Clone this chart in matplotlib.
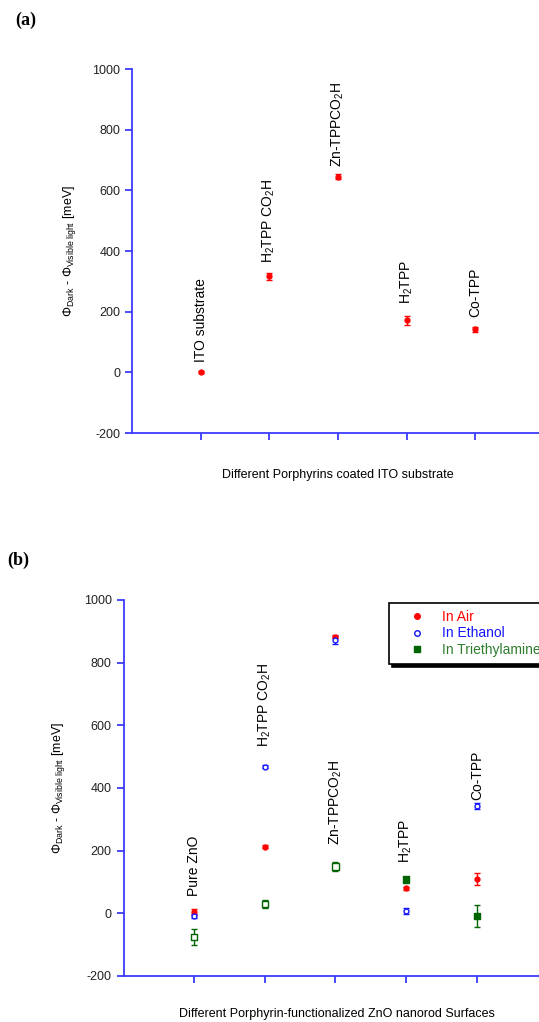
import numpy as np
import matplotlib
matplotlib.use("Agg")
import matplotlib.pyplot as plt
from matplotlib.lines import Line2D

plt.rcParams["font.family"] = ["Liberation Sans", "DejaVu Sans"]
plt.rcParams["mathtext.fontset"] = "custom"
plt.rcParams["mathtext.rm"] = "Liberation Sans"
plt.rcParams["mathtext.it"] = "Liberation Sans"
plt.rcParams["axes.unicode_minus"] = False

# ---- data: panel (a), ITO ----
a_pos = [1, 2, 3, 4, 5]
a_names = ["ITO substrate", r"H$_2$TPP CO$_2$H", r"Zn-TPPCO$_2$H", r"H$_2$TPP", "Co-TPP"]
a_vals = [2, 317, 645, 172, 142]
a_err = [4, 12, 9, 15, 8]
a_label_y = [35, 360, 677, 225, 183]

# ---- data: panel (b), ZnO nanorods ----
b_pos = [1, 2, 3, 4, 5]
b_names = ["Pure ZnO", r"H$_2$TPP CO$_2$H", r"Zn-TPPCO$_2$H", r"H$_2$TPP", "Co-TPP"]
air_vals = [5, 213, 883, 80, 110]
air_err = [10, 4, 5, 5, 20]
eth_vals = [-9, 468, 873, 8, 342]
eth_err = [6, 4, 12, 10, 10]
tea_vals = [-75, 30, 150, 108, -8]
tea_err = [25, 12, 15, 5, 35]
tea_filled = [False, False, False, True, True]
b_label_y = [55, 531, 218, 160, 362]
legend_names = ["In Air", "In Ethanol", "In Triethylamine"]

spine_blue = "#3c3cff"
red = "#ff0000"
blue = "#1414ff"
green = "#006400"
green_txt = "#2e7d2e"

fig = plt.figure(figsize=(5.39, 10.22), dpi=100)


def style_axis(ax, xmax):
    ax.set_xlim(0, xmax)
    ax.set_ylim(-200, 1000)
    ax.set_yticks([-200, 0, 200, 400, 600, 800, 1000])
    ax.set_xticks([1, 2, 3, 4, 5])
    ax.set_xticklabels([])
    for s in ["top", "right"]:
        ax.spines[s].set_visible(False)
    for s in ["left", "bottom"]:
        ax.spines[s].set_color(spine_blue)
        ax.spines[s].set_linewidth(1.3)
    ax.tick_params(axis="both", direction="out", color=spine_blue, width=1.3,
                   length=5, labelsize=9, labelcolor="#222222")
    ax.set_ylabel(r"$\Phi_{\mathrm{Dark}}$ - $\Phi_{\mathrm{Visible\ light}}$ [meV]",
                  fontsize=9)


# ---------- (a) ----------
ax1 = fig.add_axes([132 / 539, 1 - 433 / 1022, 1 - 132 / 539, 364 / 1022])
style_axis(ax1, 5.93)
ax1.errorbar(a_pos, a_vals, yerr=a_err, fmt="o", color=red, ms=3.5,
             elinewidth=1, capsize=2.5, capthick=1)
for x, y, t in zip(a_pos, a_label_y, a_names):
    ax1.text(x, y, t, rotation=90, ha="center", va="bottom", fontsize=10)
ax1.yaxis.set_label_coords(-0.133, 0.5)
ax1.set_xlabel("Different Porphyrins coated ITO substrate", fontsize=9)
ax1.xaxis.set_label_coords(0.505, -0.1)
fig.text(15 / 539, 1 - 20 / 1022, "(a)", fontsize=13, fontweight="bold",
         family="Liberation Serif", va="center")

# ---------- (b) ----------
ax2 = fig.add_axes([123.5 / 539, 1 - 976 / 1022, 1 - 123.5 / 539, 376 / 1022])
style_axis(ax2, 5.88)
ax2.errorbar(b_pos, air_vals, yerr=air_err, fmt="o", color=red, ms=3.5,
             elinewidth=1, capsize=2.5, capthick=1)
ax2.errorbar(b_pos, eth_vals, yerr=eth_err, fmt="o", color=blue, mfc="white",
             ms=3.5, mew=1, elinewidth=1, capsize=2.5, capthick=1)
ax2.errorbar(b_pos, tea_vals, yerr=tea_err, fmt="none", ecolor=green,
             elinewidth=1, capsize=2.5, capthick=1)
ax2.scatter(b_pos, tea_vals, marker="s", s=22, linewidths=1, edgecolors=green,
            facecolors=[green if f else "white" for f in tea_filled], zorder=3)
for x, y, t in zip(b_pos, b_label_y, b_names):
    ax2.text(x, y, t, rotation=90, ha="center", va="bottom", fontsize=10)
ax2.yaxis.set_label_coords(-0.136, 0.5)
ax2.set_xlabel("Different Porphyrin-functionalized ZnO nanorod Surfaces", fontsize=9)
ax2.xaxis.set_label_coords(0.513, -0.086)

handles = [
    Line2D([], [], ls="none", marker="o", color=red, ms=4),
    Line2D([], [], ls="none", marker="o", color=blue, mfc="white", ms=4),
    Line2D([], [], ls="none", marker="s", color=green, ms=4.5),
]
leg = ax2.legend(handles, legend_names, loc="upper left",
                 bbox_to_anchor=(0.639, 0.992), borderaxespad=0,
                 fontsize=10, frameon=True, fancybox=False,
                 shadow={"color": "black", "alpha": 1.0, "ox": 2, "oy": -2},
                 edgecolor="black", handlelength=3.0, handletextpad=0.35,
                 labelspacing=0.18, borderpad=0.5)
leg.get_frame().set_linewidth(1.2)
for txt, c in zip(leg.get_texts(), [red, blue, green_txt]):
    txt.set_color(c)

fig.text(7 / 539, 1 - 560 / 1022, "(b)", fontsize=13, fontweight="bold",
         family="Liberation Serif", va="center")

fig.savefig("out.png", dpi=100)
